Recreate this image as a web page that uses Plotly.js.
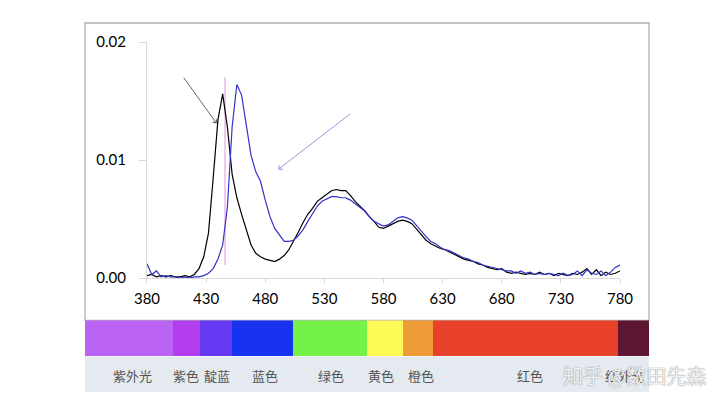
<!DOCTYPE html>
<html>
<head>
<meta charset="utf-8">
<script src="https://cdn.plot.ly/plotly-3.0.1.min.js"></script>
<style>
  html, body { margin: 0; padding: 0; background: #fff; }
  #chart { width: 720px; height: 405px; }
</style>
</head>
<body>
<div id="chart"></div>
<script>
// wavelength grid (nm), 4 nm steps
var wavelength = [
  380,384,388,392,396,400,404,408,412,416,420,424,428,432,436,440,444,448,452,456,
  460,464,468,472,476,480,484,488,492,496,500,504,508,512,516,520,524,528,532,536,
  540,544,548,552,556,560,564,568,572,576,580,584,588,592,596,600,604,608,612,616,
  620,624,628,632,636,640,644,648,652,656,660,664,668,672,676,680,684,688,692,696,
  700,704,708,712,716,720,724,728,732,736,740,744,748,752,756,760,764,768,772,776,780
];

// black spectrum
var blackSpec = [
  0.0002,0.0003,0.0001,0.0002,0.0001,0.0002,0.0001,0.0001,0.0002,0.0001,
  0.0003,0.0008,0.0018,0.0038,0.0085,0.0134,0.0156,0.0128,0.0088,0.0068,
  0.0054,0.0040,0.0028,0.0021,0.0018,0.0016,0.0015,0.0014,0.0016,0.0019,
  0.0024,0.0031,0.0039,0.0047,0.0054,0.0059,0.0065,0.0068,0.0071,0.0074,
  0.0075,0.0074,0.0074,0.0070,0.0065,0.0061,0.0057,0.0052,0.0048,0.0043,
  0.0042,0.0044,0.0046,0.0048,0.0049,0.0048,0.0046,0.0041,0.0037,0.0032,
  0.0029,0.0027,0.0025,0.0024,0.0022,0.0020,0.0018,0.0016,0.0015,0.0014,
  0.0012,0.0011,0.0009,0.0008,0.0007,0.0008,0.0005,0.0004,0.0005,0.0004,
  0.0003,0.0004,0.0003,0.0005,0.0003,0.0004,0.0002,0.0004,0.0003,0.0002,
  0.0004,0.0003,0.0005,0.0008,0.0003,0.0007,0.0002,0.0005,0.0003,0.0004,0.0006
];

// blue spectrum
var blueSpec = [
  0.0012,0.0003,0.0006,0.0001,0.0002,0.0001,0.0001,0.0000,0.0001,0.0000,
  0.0001,0.0001,0.0002,0.0004,0.0008,0.0016,0.0028,0.0060,0.0128,0.0164,
  0.0155,0.0128,0.0104,0.0090,0.0082,0.0066,0.0052,0.0042,0.0036,0.0031,
  0.0031,0.0032,0.0036,0.0041,0.0048,0.0055,0.0061,0.0065,0.0067,0.0069,
  0.0069,0.0068,0.0068,0.0066,0.0063,0.0060,0.0057,0.0052,0.0048,0.0046,
  0.0044,0.0045,0.0048,0.0051,0.0052,0.0051,0.0049,0.0044,0.0040,0.0035,
  0.0031,0.0029,0.0026,0.0024,0.0023,0.0021,0.0019,0.0017,0.0016,0.0014,
  0.0013,0.0011,0.0010,0.0009,0.0008,0.0007,0.0006,0.0006,0.0004,0.0006,
  0.0004,0.0005,0.0003,0.0004,0.0003,0.0004,0.0003,0.0002,0.0004,0.0002,
  0.0003,0.0006,0.0002,0.0007,0.0004,0.0003,0.0006,0.0002,0.0005,0.0009,0.0011
];

// marker line at the black peak
var markerLine = { x: 446, y: [0.0011, 0.0170] };

// arrows: [head x, head y, tail x, tail y]
var greyArrow = [438.9, 0.0131, 410.2, 0.0171];
var blueArrow = [491, 0.0092, 553, 0.0140];

// colour bands (nm edges), names, label positions (nm), colours
var bandEdges = [327.6, 402, 424.8, 451.9, 503.5, 566, 596.5, 621.9, 778.3, 804.5];
var bandNames = ['紫外光', '紫色', '靛蓝', '蓝色', '绿色', '黄色', '橙色', '红色', '红外光'];
var bandLabelPos = [368, 413, 439, 480, 535.5, 578, 611.5, 704, 784];
var bandColors = ['#bb64f4', '#b33ef0', '#6538f2', '#1733f0', '#74f24a', '#fdf956', '#f09b3a', '#e9422a', '#5e1733'];

var yTicks = [0, 0.01, 0.02];

var bandStart = bandEdges.slice(0, -1);
var bandWidth = bandStart.map(function (b, i) { return bandEdges[i + 1] - b; });

var traces = [
  {
    x: wavelength, y: blackSpec, type: 'scatter', mode: 'lines',
    line: { color: '#000000', width: 1.2 }, hoverinfo: 'skip'
  },
  {
    x: wavelength, y: blueSpec, type: 'scatter', mode: 'lines',
    line: { color: '#3232c8', width: 1.2 }, hoverinfo: 'skip'
  },
  {
    type: 'bar', orientation: 'h', xaxis: 'x2', yaxis: 'y2',
    y: bandStart.map(function () { return 0; }),
    x: bandWidth, base: bandStart, width: 1,
    marker: { color: bandColors, line: { width: 0 } },
    hoverinfo: 'skip'
  }
];

var annotations = [
  {
    x: greyArrow[0], y: greyArrow[1], ax: greyArrow[2], ay: greyArrow[3],
    xref: 'x', yref: 'y', axref: 'x', ayref: 'y', text: '',
    showarrow: true, arrowhead: 4, arrowsize: 1, arrowwidth: 1, arrowcolor: '#666666'
  },
  {
    x: blueArrow[0], y: blueArrow[1], ax: blueArrow[2], ay: blueArrow[3],
    xref: 'x', yref: 'y', axref: 'x', ayref: 'y', text: '',
    showarrow: true, arrowhead: 4, arrowsize: 1, arrowwidth: 1, arrowcolor: '#9a9ae0'
  }
];

bandNames.forEach(function (name, i) {
  annotations.push({
    x: bandLabelPos[i], y: 0.046, xref: 'x2', yref: 'paper',
    text: name, showarrow: false, xanchor: 'center', yanchor: 'middle',
    font: { family: 'Noto Sans CJK SC', size: 13, color: '#555555' }
  });
});

// watermark
annotations.push({
  x: 0.975, y: 0.046, xref: 'paper', yref: 'paper', text: '知乎 @数田先森',
  showarrow: false, xanchor: 'center', yanchor: 'middle',
  font: { family: 'Noto Sans CJK SC', size: 20, color: 'rgba(255,255,255,0.9)',
          shadow: '0 0 1px #8a8a8a, 0 0 1px #8a8a8a' }
});

var layout = {
  width: 720, height: 405,
  margin: { l: 85, r: 71, t: 23, b: 13 },
  paper_bgcolor: '#ffffff', plot_bgcolor: '#ffffff',
  showlegend: false, bargap: 0,
  font: { family: 'Lato, sans-serif', size: 15, color: '#000000' },
  xaxis: {
    domain: [0.1099, 0.9486], range: [380, 780],
    tick0: 380, dtick: 50, ticks: 'outside', ticklen: 4, tickcolor: '#d9d9d9',
    showline: true, linecolor: '#d9d9d9', linewidth: 1,
    showgrid: false, zeroline: false, ticklabelstandoff: 3
  },
  yaxis: {
    domain: [0.3089, 0.9485], range: [0, 0.02],
    tickvals: yTicks, tickformat: '.2f', ticks: 'outside', ticklen: 7, tickcolor: '#d9d9d9',
    showline: true, linecolor: '#d9d9d9', linewidth: 1,
    showgrid: false, zeroline: false, ticklabelstandoff: 10
  },
  xaxis2: {
    domain: [0, 1], range: [bandEdges[0], bandEdges[bandEdges.length - 1]],
    anchor: 'y2', visible: false, fixedrange: true
  },
  yaxis2: {
    domain: [0.0962, 0.1938], range: [-0.5, 0.5],
    anchor: 'x2', visible: false, fixedrange: true
  },
  shapes: [
    {
      type: 'rect', xref: 'paper', yref: 'paper', x0: 0, x1: 1, y0: 0, y1: 0.0962,
      fillcolor: '#e4eaf0', line: { width: 0 }, layer: 'below'
    },
    {
      type: 'rect', xref: 'paper', yref: 'paper', x0: 0, x1: 1, y0: 0.1938, y1: 1,
      fillcolor: 'rgba(0,0,0,0)', line: { color: '#b0b0b0', width: 1.3 }, layer: 'below'
    },
    {
      type: 'line', xref: 'x', yref: 'y',
      x0: markerLine.x, x1: markerLine.x, y0: markerLine.y[0], y1: markerLine.y[1],
      line: { color: '#e6a3dc', width: 1.2 }, layer: 'below'
    }
  ],
  annotations: annotations
};

Plotly.newPlot('chart', traces, layout, { staticPlot: true, displayModeBar: false });
</script>
</body>
</html>
